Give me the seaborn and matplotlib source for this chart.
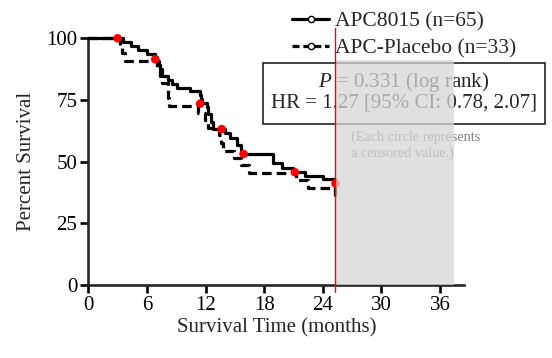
import matplotlib
matplotlib.use("Agg")
import matplotlib.pyplot as plt
import seaborn as sns
import pandas as pd
from matplotlib.patches import Rectangle
from matplotlib.lines import Line2D

# ---- data ----
apc_t = [0, 3.6, 4.4, 5.1, 6.0, 6.8, 7.0, 7.2, 7.35, 7.5, 8.2, 8.6, 9.05, 10.4,
         11.4, 11.5, 11.65, 12.1, 12.3, 12.6, 12.8, 14.0, 14.5, 15.2, 15.6,
         18.9, 19.8, 21.0, 22.2, 24.05, 25.3]
apc_s = [100, 98.5, 96.9, 95.4, 93.8, 92.3, 90.8, 89.2, 87.7, 84.6, 83.1, 81.5, 80.0, 78.5,
         76.9, 75.4, 73.8, 72.3, 69.2, 66.2, 63.1, 61.5, 59.5, 56.9, 53.0,
         49.5, 47.5, 45.7, 44.3, 42.8, 36.5]

plc_t = [0, 3.2, 3.5, 3.8, 7.0, 7.3, 7.5, 8.2, 8.25, 11.2, 11.9, 12.3, 13.4, 13.6,
         13.8, 14.9, 15.6, 16.5, 21.3, 22.5, 25.3]
plc_s = [100, 97.0, 93.9, 90.9, 87.9, 84.8, 81.8, 75.8, 72.7, 69.7, 66.7, 63.6, 60.6, 57.6,
         54.5, 51.5, 48.5, 45.5, 42.4, 39.4, 36.4]

dot_t = [3.0, 6.85, 11.45, 13.65, 15.9, 21.15, 25.3]
dot_s = [100, 91.5, 73.5, 63.2, 53.1, 45.7, 41.2]

labels = ["APC8015 (n=65)", "APC-Placebo (n=33)"]
x_ticks = [0, 6, 12, 18, 24, 30, 36]
y_ticks = [0, 25, 50, 75, 100]
cutoff = 25.3
shade_end = 37.4
shade_top = 91.2

# ---- style ----
sns.set_style("ticks")
plt.rcParams["font.family"] = ["Liberation Serif", "DejaVu Serif"]
plt.rcParams["mathtext.fontset"] = "custom"
plt.rcParams["mathtext.rm"] = "Liberation Serif"
plt.rcParams["mathtext.it"] = "Liberation Serif:italic"

W, H = 552, 358
fig = plt.figure(figsize=(W / 100, H / 100), dpi=100)
x0, x_right, y_bot, y_top = 88.3, 464.4, 285.0, 38.3
ax = fig.add_axes([x0 / W, 1 - y_bot / H, (x_right - x0) / W, (y_bot - y_top) / H])

df_a = pd.DataFrame({"t": apc_t, "s": apc_s})
df_p = pd.DataFrame({"t": plc_t, "s": plc_s})
sns.lineplot(data=df_a, x="t", y="s", ax=ax, sort=False, estimator=None,
             drawstyle="steps-post", color="black", lw=2.3, zorder=3, clip_on=False)
sns.lineplot(data=df_p, x="t", y="s", ax=ax, sort=False, estimator=None,
             drawstyle="steps-post", color="black", lw=2.3, zorder=3, clip_on=False,
             linestyle=(0, (3, 1.6)))
sns.scatterplot(x=dot_t, y=dot_s, ax=ax, color="red", s=38, edgecolor="none",
                zorder=4, clip_on=False)

ax.set_xlim(0, 38.5)
ax.set_ylim(0, 100)
ax.set_xticks(x_ticks)
ax.set_yticks(y_ticks)
sns.despine(ax=ax)
for sp in ("left", "bottom"):
    ax.spines[sp].set_linewidth(1.9)
ax.tick_params(width=1.9, length=6, labelsize=15, pad=2, color="black", labelcolor="black")
ax.set_xlabel("Survival Time (months)", fontsize=15, labelpad=2)
ax.set_ylabel("Percent Survival", fontsize=15, labelpad=7)

# stats box (under the shading)
ax.add_patch(Rectangle((263 / W, 1 - 124 / H), 282 / W, 61 / H, transform=fig.transFigure,
                       fill=False, edgecolor="#222222", lw=1.2, clip_on=False, zorder=5))
ax.text(404 / W, 1 - 81.7 / H, r"$\it{P}$ = 0.331 (log rank)", transform=fig.transFigure,
        ha="center", va="center", fontsize=15, zorder=5, clip_on=False)
ax.text(404 / W, 1 - 103.3 / H, "HR = 1.27 [95% CI: 0.78, 2.07]", transform=fig.transFigure,
        ha="center", va="center", fontsize=15, zorder=5, clip_on=False)
ax.text(350.7 / W, 1 - 145 / H, "(Each circle represents\na censored value.)",
        transform=fig.transFigure, ha="left", va="center", fontsize=10.3,
        color="#7a7a7a", zorder=5, clip_on=False, linespacing=1.25)

# shaded region and red cut line
ax.add_patch(Rectangle((cutoff, 0), shade_end - cutoff, shade_top, facecolor="#d6d6d6",
                       edgecolor="none", alpha=0.75, zorder=6))
ax.plot([cutoff, cutoff], [104, -2.8], color="#ff0000", lw=1.0, zorder=7, clip_on=False)

# legend
handles = [Line2D([], [], color="black", lw=2.3, marker="o", markersize=4.5,
                  markerfacecolor="white", markeredgewidth=1.0),
           Line2D([], [], color="black", lw=2.3, linestyle=(0, (2.2, 1.2)), marker="o",
                  markersize=4.5, markerfacecolor="white", markeredgewidth=1.0)]
fig.legend(handles, labels, loc="upper left", bbox_to_anchor=(291.7 / W, 1 - 11 / H),
           frameon=False, fontsize=15.5, borderpad=0, borderaxespad=0,
           handlelength=1.75, handletextpad=0.25, labelspacing=0.34)

fig.savefig("out.png", dpi=100)
